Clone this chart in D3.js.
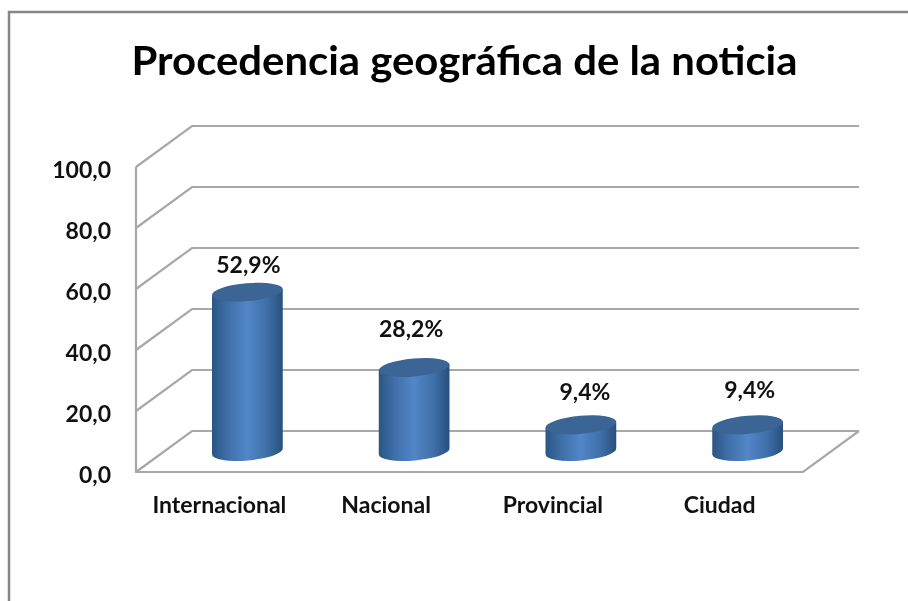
<!DOCTYPE html>
<html>
<head>
<meta charset="UTF-8">
<style>
body { margin: 0; background: #fff; }
svg { display: block; filter: blur(0.45px); }
text { font-family: Lato, "Open Sans", sans-serif; fill: #000; }
.tick text, .value { font-size: 23px; font-weight: 700; fill: #111; }
.title { font-size: 40px; font-weight: 700; }
.grid { fill: none; stroke: #a8a8a8; stroke-width: 2.2px; }
</style>
</head>
<body>
<svg class="chart" width="908" height="601"></svg>
<script src="https://d3js.org/d3.v7.min.js"></script>
<script>

// Data
var categories = ["Internacional", "Nacional", "Provincial", "Ciudad"];
var values = [52.9, 28.2, 9.4, 9.4];
var valueLabels = ["52,9%", "28,2%", "9,4%", "9,4%"];
var ticks = [0, 20, 40, 60, 80, 100];

// Fake 3D: the back wall is the front plane moved by this much
var depth = {x: 56, y: -41};

var svg = d3.select(".chart");

// Scales for the front plane
var x = d3.scaleBand().domain(categories).range([136, 803]);
var y = d3.scaleLinear().domain([0, 100]).range([472, 167]);

// Outer frame, open on the right and at the bottom
svg.append("path")
    .attr("d", "M9 601V12H908")
    .attr("fill", "none")
    .attr("stroke", "#868686")
    .attr("stroke-width", 2.5);

svg.append("text")
    .attr("class", "title")
    .attr("x", 464.5)
    .attr("y", 75)
    .attr("text-anchor", "middle")
    .attr("textLength", 666)
    .attr("lengthAdjust", "spacingAndGlyphs")
    .text("Procedencia geográfica de la noticia");

// Side wall diagonals and back wall gridlines
svg.selectAll("path.grid-line")
    .data(ticks)
  .enter().append("path")
    .attr("class", "grid grid-line")
    .attr("d", function(d) {
      var x0 = x.range()[0], x1 = x.range()[1];
      return "M" + x0 + " " + y(d) +
             "L" + (x0 + depth.x) + " " + (y(d) + depth.y) +
             "H" + (x1 + depth.x);
    });

// Left edge of the side wall, floor front edge and floor right edge
svg.append("path")
    .attr("class", "grid")
    .attr("d", "M" + x.range()[0] + " " + y(100) + "V" + y(0) + "H" + x.range()[1] +
               "l" + depth.x + " " + depth.y);

// Horizontal shading of the cylinders
var grad = svg.append("defs").append("linearGradient")
    .attr("id", "cyl");
grad.append("stop").attr("offset", "0%").attr("stop-color", "#2a5584");
grad.append("stop").attr("offset", "22%").attr("stop-color", "#3f6fa8");
grad.append("stop").attr("offset", "50%").attr("stop-color", "#5286c8");
grad.append("stop").attr("offset", "78%").attr("stop-color", "#3f6fa8");
grad.append("stop").attr("offset", "100%").attr("stop-color", "#274f7c");

// Cylinders stand halfway into the depth of the floor
var rx = 35.5, ry = 9, tilt = 5;
var dx = rx * Math.cos(tilt * Math.PI / 180),
    dy = rx * Math.sin(tilt * Math.PI / 180);

function cx(i) { return x(categories[i]) + x.bandwidth() / 2 + depth.x / 2; }
function cy(v) { return y(v) + depth.y / 2 + 2; }

var bars = svg.selectAll("g.bar")
    .data(values)
  .enter().append("g")
    .attr("class", "bar");

bars.append("path")
    .attr("fill", "url(#cyl)")
    .attr("d", function(d, i) {
      var c = cx(i), top = cy(d), bottom = cy(0) - 2;
      return "M" + (c - dx) + " " + (top + dy) +
             "L" + (c - dx) + " " + (bottom + dy) +
             "A" + rx + " " + ry + " " + (-tilt) + " 0 0 " + (c + dx) + " " + (bottom - dy) +
             "L" + (c + dx) + " " + (top - dy) + "Z";
    });

bars.append("ellipse")
    .attr("rx", rx)
    .attr("ry", ry)
    .attr("fill", "#3b6594")
    .attr("transform", function(d, i) {
      return "translate(" + cx(i) + "," + cy(d) + ") rotate(" + (-tilt) + ")";
    });

// Labels were hand placed in the original, hence the nudges
var labelNudge = [{x: 1, y: -19}, {x: -3, y: -30}, {x: 4, y: -25}, {x: 2, y: -27}];

svg.selectAll("text.value")
    .data(valueLabels)
  .enter().append("text")
    .attr("class", "value")
    .attr("text-anchor", "middle")
    .attr("x", function(d, i) { return cx(i) + labelNudge[i].x; })
    .attr("y", function(d, i) { return cy(values[i]) + labelNudge[i].y; })
    .text(function(d) { return d; });

// Axes, only their text is visible
var yAxis = svg.append("g")
    .attr("transform", "translate(111,3)")
    .call(d3.axisLeft(y)
      .tickValues(ticks)
      .tickSize(0)
      .tickPadding(0)
      .tickFormat(function(d) { return d3.format(".1f")(d).replace(".", ","); }));

var xAxis = svg.append("g")
    .attr("transform", "translate(0,497)")
    .call(d3.axisBottom(x).tickSize(0).tickPadding(0));

yAxis.select(".domain").remove();
xAxis.select(".domain").remove();

</script>
</body>
</html>
